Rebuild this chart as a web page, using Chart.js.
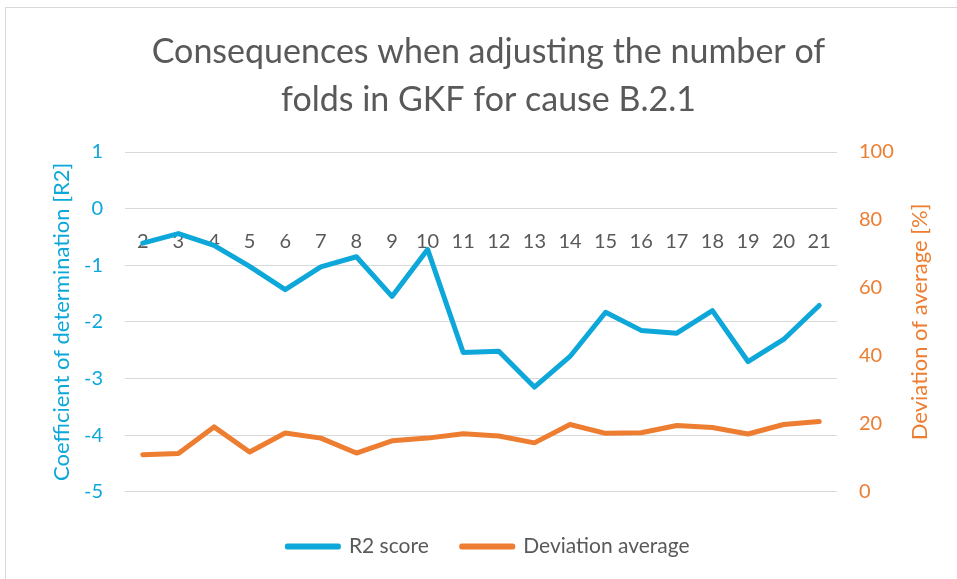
<!DOCTYPE html>
<html>
<head>
<meta charset="utf-8">
<script src="https://cdn.jsdelivr.net/npm/chart.js@4"></script>
<style>
  html, body { margin: 0; padding: 0; background: #fff; }
  #wrap { position: relative; width: 957px; height: 579px; overflow: hidden; }
  #frame { position: absolute; left: 5px; top: 7px; width: 1000px; height: 1000px; border: 1px solid #d9d9d9; }
  #chart { position: absolute; left: 0; top: 0; }
</style>
</head>
<body>
<div id="wrap">
  <div id="frame"></div>
  <canvas id="chart" width="957" height="579"></canvas>
</div>
<script>
var folds = ["2", "3", "4", "5", "6", "7", "8", "9", "10", "11", "12", "13", "14", "15", "16", "17", "18", "19", "20", "21"];
var r2Score = [-0.61, -0.44, -0.65, -1.02, -1.43, -1.03, -0.85, -1.55, -0.72, -2.54, -2.52, -3.15, -2.61, -1.83, -2.15, -2.20, -1.80, -2.70, -2.31, -1.71];
var deviationAverage = [10.9, 11.3, 19.1, 11.7, 17.3, 15.8, 11.4, 15.0, 15.8, 17.1, 16.4, 14.4, 19.8, 17.2, 17.4, 19.5, 18.9, 17.0, 19.8, 20.7];

var blue = '#0ea7d9';
var orange = '#ed7d31';
var grey = '#595959';
var FONT = 'Lato';

// right axis title reads bottom-to-top
var rightTitle = {
  id: 'rightTitle',
  afterDraw: function (chart) {
    var s = chart.scales.y1;
    var ctx = chart.ctx;
    ctx.save();
    ctx.translate(s.right - 37, (chart.chartArea.top + chart.chartArea.bottom) / 2);
    ctx.rotate(-Math.PI / 2);
    ctx.font = '22px ' + FONT;
    ctx.fillStyle = orange;
    ctx.textAlign = 'center';
    ctx.textBaseline = 'middle';
    ctx.fillText('Deviation of average [%]', 0, 0);
    ctx.restore();
  }
};

var ctx = document.getElementById('chart').getContext('2d');
var chart = new Chart(ctx, {
  type: 'line',
  data: {
    labels: folds,
    datasets: [{
        label: 'R2 score',
        data: r2Score,
        yAxisID: 'y',
        borderColor: blue,
        backgroundColor: blue,
        borderWidth: 5,
        borderJoinStyle: 'round',
        borderCapStyle: 'round',
        pointRadius: 0,
        tension: 0
      },
      {
        label: 'Deviation average',
        data: deviationAverage,
        yAxisID: 'y1',
        borderColor: orange,
        backgroundColor: orange,
        borderWidth: 5,
        borderJoinStyle: 'round',
        borderCapStyle: 'round',
        pointRadius: 0,
        tension: 0
      }
    ]
  },
  options: {
    responsive: false,
    animation: false,
    layout: {
      padding: { left: 20, right: 0, top: 0, bottom: 12 }
    },
    plugins: {
      title: {
        display: true,
        text: ['Consequences when adjusting the number of', 'folds in GKF for cause B.2.1'],
        color: grey,
        font: { family: FONT, size: 34, weight: 'normal', lineHeight: '48px' },
        padding: { top: 28, bottom: 28 }
      },
      legend: {
        display: true,
        position: 'bottom',
        title: { display: true, text: '', font: { size: 1 }, padding: { top: 10, bottom: 0 } },
        labels: {
          color: grey,
          font: { family: FONT, size: 21 },
          boxWidth: 51,
          boxHeight: 1,
          padding: 33
        }
      },
      tooltip: { enabled: false }
    },
    scales: {
      x: {
        type: 'category',
        position: { y: 0 },
        offset: true,
        grid: { display: false },
        border: { display: false },
        ticks: {
          color: grey,
          font: { family: FONT, size: 20 },
          padding: 13,
          maxRotation: 0,
          autoSkip: false
        }
      },
      y: {
        position: 'left',
        min: -5,
        max: 1,
        ticks: {
          stepSize: 1,
          color: blue,
          font: { family: FONT, size: 20 },
          padding: 22
        },
        grid: { color: '#d9d9d9', lineWidth: 1, drawTicks: false },
        border: { display: false },
        title: {
          display: true,
          text: 'Coefficient of determination [R2]',
          color: blue,
          font: { family: FONT, size: 22 },
          padding: { top: 29, bottom: 0 }
        },
        afterFit: function (scale) { scale.width = 105; }
      },
      y1: {
        position: 'right',
        min: 0,
        max: 100,
        ticks: {
          stepSize: 20,
          color: orange,
          font: { family: FONT, size: 20 },
          padding: 22
        },
        grid: { display: false, drawTicks: false },
        border: { display: false },
        afterFit: function (scale) { scale.width = 120; }
      }
    }
  },
  plugins: [rightTitle]
});
</script>
</body>
</html>
